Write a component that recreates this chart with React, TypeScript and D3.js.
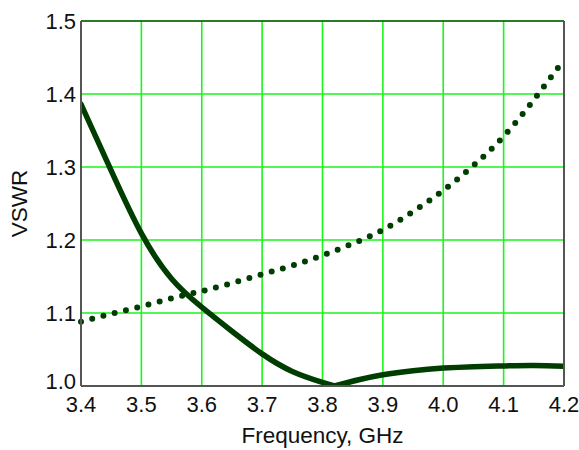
import React, { useRef, useEffect } from 'react';
import * as d3 from 'd3';

// solid curve (VSWR vs frequency)
const solidFreq = [3.4, 3.45, 3.5, 3.55, 3.6, 3.65, 3.7, 3.75, 3.8, 3.82, 3.86, 3.9, 3.95, 4.0, 4.05, 4.1, 4.15, 4.2];
const solidVswr = [1.386, 1.295, 1.209, 1.147, 1.108, 1.075, 1.044, 1.02, 1.005, 1.0, 1.0085, 1.0155, 1.021, 1.0245, 1.0265, 1.0275, 1.028, 1.027];

// dotted curve
const dotFreq = [3.4, 3.45, 3.5, 3.55, 3.6, 3.65, 3.7, 3.75, 3.8, 3.85, 3.9, 3.95, 4.0, 4.05, 4.1, 4.15, 4.2];
const dotVswr = [1.088, 1.099, 1.109, 1.12, 1.13, 1.141, 1.153, 1.165, 1.179, 1.195, 1.214, 1.239, 1.268, 1.302, 1.342, 1.392, 1.447];

const xTicks = [3.4, 3.5, 3.6, 3.7, 3.8, 3.9, 4.0, 4.1, 4.2];
const yTicks = [1.0, 1.1, 1.2, 1.3, 1.4, 1.5];

const W = 579;
const H = 450;
const margin = { left: 81, right: 15, top: 21, bottom: 64 };

export default function App() {
  const svgRef = useRef<SVGSVGElement>(null);

  useEffect(() => {
    if (!svgRef.current) return;
    const svg = d3.select(svgRef.current);
    svg.selectAll('*').remove();

    const x = d3.scaleLinear().domain([3.4, 4.2]).range([margin.left, W - margin.right]);
    const y = d3.scaleLinear().domain([1.0, 1.5]).range([H - margin.bottom, margin.top]);
    const font = "'Liberation Sans', Arial, sans-serif";

    // grid
    const grid = svg.append('g');
    grid.selectAll('line.v')
      .data(xTicks)
      .enter()
      .append('line')
      .attr('x1', d => x(d)).attr('x2', d => x(d))
      .attr('y1', y(1.5)).attr('y2', y(1.0))
      .attr('stroke', '#1af51a').attr('stroke-width', 1.6);
    grid.selectAll('line.h')
      .data(yTicks)
      .enter()
      .append('line')
      .attr('x1', x(3.4)).attr('x2', x(4.2))
      .attr('y1', d => y(d)).attr('y2', d => y(d))
      .attr('stroke', '#1af51a').attr('stroke-width', 1.6);

    // clip to plot area
    svg.append('clipPath').attr('id', 'plotclip')
      .append('rect')
      .attr('x', x(3.4)).attr('y', y(1.5) - 4)
      .attr('width', x(4.2) - x(3.4)).attr('height', y(1.0) - y(1.5) + 4);

    // solid curve has a cusp at its minimum: draw both branches separately
    const solidPts = solidFreq.map((f, i) => [f, solidVswr[i]] as [number, number]);
    const minIdx = d3.minIndex(solidVswr);
    const branchLine = d3.line<[number, number]>()
      .x(d => x(d[0]))
      .y(d => y(d[1]))
      .curve(d3.curveNatural);
    [solidPts.slice(0, minIdx + 1), solidPts.slice(minIdx)].forEach(branch => {
      svg.append('path')
        .attr('d', branchLine(branch))
        .attr('fill', 'none')
        .attr('stroke', '#003d00')
        .attr('stroke-width', 5.5)
        .attr('stroke-linecap', 'round')
        .attr('clip-path', 'url(#plotclip)');
    });

    const dotLine = d3.line<number>()
      .x((d, i) => x(dotFreq[i]))
      .y(d => y(d))
      .curve(d3.curveNatural);
    svg.append('path')
      .attr('d', dotLine(dotVswr))
      .attr('fill', 'none')
      .attr('stroke', '#003d00')
      .attr('stroke-width', 6)
      .attr('stroke-linecap', 'round')
      .attr('stroke-dasharray', '0 11.6');

    // frame
    svg.append('line')
      .attr('x1', x(3.4)).attr('x2', x(4.2)).attr('y1', y(1.5)).attr('y2', y(1.5))
      .attr('stroke', '#000').attr('stroke-width', 1.2);
    svg.append('line')
      .attr('x1', x(3.4)).attr('x2', x(3.4)).attr('y1', y(1.5)).attr('y2', y(1.0))
      .attr('stroke', '#555').attr('stroke-width', 2);
    svg.append('line')
      .attr('x1', x(4.2)).attr('x2', x(4.2)).attr('y1', y(1.5)).attr('y2', y(1.0))
      .attr('stroke', '#555').attr('stroke-width', 2);
    svg.append('line')
      .attr('x1', x(3.4)).attr('x2', x(4.2)).attr('y1', y(1.0)).attr('y2', y(1.0))
      .attr('stroke', '#555').attr('stroke-width', 2);

    // tick labels
    svg.selectAll('text.yt')
      .data(yTicks)
      .enter()
      .append('text')
      .attr('x', margin.left - 5)
      .attr('y', d => y(d) + (d === 1.0 ? -5 : 0))
      .attr('dy', '0.36em')
      .attr('text-anchor', 'end')
      .attr('font-family', font)
      .attr('font-size', 22)
      .attr('fill', '#111')
      .text(d => d.toFixed(1));

    svg.selectAll('text.xt')
      .data(xTicks)
      .enter()
      .append('text')
      .attr('x', d => x(d))
      .attr('y', y(1.0) + 26)
      .attr('text-anchor', 'middle')
      .attr('font-family', font)
      .attr('font-size', 22)
      .attr('fill', '#111')
      .text(d => d.toFixed(1));

    // axis titles
    svg.append('text')
      .attr('x', (x(3.4) + x(4.2)) / 2)
      .attr('y', 443)
      .attr('text-anchor', 'middle')
      .attr('font-family', font)
      .attr('font-size', 22.5)
      .attr('fill', '#111')
      .text('Frequency, GHz');

    svg.append('text')
      .attr('transform', `translate(27, ${y(1.25)}) rotate(-90)`)
      .attr('text-anchor', 'middle')
      .attr('font-family', font)
      .attr('font-size', 22.5)
      .attr('fill', '#111')
      .text('VSWR');
  }, []);

  return (
    <svg
      ref={svgRef}
      width={W}
      height={H}
      style={{ position: 'absolute', left: 0, top: 0, background: '#fff' }}
    />
  );
}
